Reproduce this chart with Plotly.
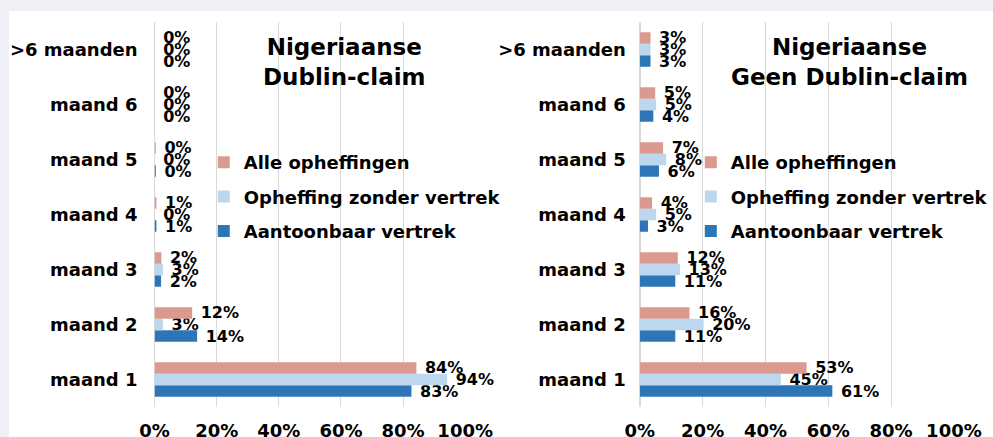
import plotly.graph_objects as go

# ---- data ----
categories = ["maand 1", "maand 2", "maand 3", "maand 4", "maand 5", "maand 6", ">6 maanden"]
series_names = ["Aantoonbaar vertrek", "Opheffing zonder vertrek", "Alle opheffingen"]
series_colors = ["#2E75B6", "#BDD7EE", "#DA9A90"]
legend_ranks = [3, 2, 1]

# Nigeriaanse, Dublin-claim (percentages)
dublin_aantoonbaar = [82.7, 13.7, 2.1, 0.6, 0.4, 0.0, 0.0]
dublin_zonder = [94.2, 2.7, 2.7, 0.0, 0.0, 0.0, 0.0]
dublin_alle = [84.3, 12.1, 2.2, 0.6, 0.4, 0.0, 0.0]

# Nigeriaanse, geen Dublin-claim (percentages)
geen_aantoonbaar = [61.3, 11.3, 11.3, 2.6, 6.1, 4.3, 3.4]
geen_zonder = [44.9, 20.3, 12.8, 5.2, 8.4, 5.2, 3.4]
geen_alle = [53.1, 15.8, 12.1, 3.9, 7.4, 4.9, 3.4]

x_ticks = [0, 20, 40, 60, 80, 100]
x_tick_labels = ["0%", "20%", "40%", "60%", "80%", "100%"]
title_left = "Nigeriaanse<br>Dublin-claim"
title_right = "Nigeriaanse<br>Geen Dublin-claim"

W, H = 993, 437
FONT = "DejaVu Sans, Verdana, sans-serif"

fig = go.Figure()

panels = [
    ("x", "y", "legend", [dublin_aantoonbaar, dublin_zonder, dublin_alle]),
    ("x2", "y2", "legend2", [geen_aantoonbaar, geen_zonder, geen_alle]),
]
for xa, ya, lg, values in panels:
    for name, color, rank, vals in zip(series_names, series_colors, legend_ranks, values):
        fig.add_trace(go.Bar(
            y=categories, x=vals, orientation="h", name=name,
            marker=dict(color=color, line=dict(width=0)),
            texttemplate="\u00a0%{x:.0f}%", textposition="outside",
            textfont=dict(family=FONT, size=16, color="black", weight="bold"),
            constraintext="none", cliponaxis=False,
            xaxis=xa, yaxis=ya, legend=lg, legendgroup=lg + name,
            legendrank=rank, hoverinfo="skip",
        ))

ydom = [1 - 407 / H, 1 - 22 / H]
axis_common = dict(
    range=[0, 100], tickmode="array", tickvals=x_ticks, ticktext=x_tick_labels,
    showgrid=True, gridcolor="#D9D9D9", gridwidth=1,
    zeroline=True, zerolinecolor="#D9D9D9", zerolinewidth=1.5,
    showline=False, ticks="", ticklabelstandoff=11,
    tickfont=dict(family=FONT, size=18, color="black", weight="bold"),
    automargin=False, fixedrange=True,
)
yaxis_common = dict(
    type="category", categoryorder="array", categoryarray=categories,
    showgrid=False, zeroline=False, showline=False, ticks="",
    tickfont=dict(family=FONT, size=18, color="black", weight="bold"),
    automargin=False, fixedrange=True,
)

legend_common = dict(
    traceorder="grouped", tracegroupgap=8,
    font=dict(family=FONT, size=18, color="black", weight="bold"),
    bgcolor="rgba(0,0,0,0)", borderwidth=0,
    xanchor="left", yanchor="top",
)

fig.update_layout(
    width=W, height=H,
    margin=dict(l=0, r=0, t=0, b=0),
    paper_bgcolor="#EEF0F5", plot_bgcolor="rgba(0,0,0,0)",
    barmode="group", bargap=0.37, bargroupgap=0,
    showlegend=True,
    xaxis=dict(domain=[155.5 / W, 468 / W], anchor="y", **axis_common),
    yaxis=dict(domain=ydom, anchor="x", ticklabelstandoff=16, **yaxis_common),
    xaxis2=dict(domain=[643.7 / W, 959.7 / W], anchor="y2", **axis_common),
    yaxis2=dict(domain=ydom, anchor="x2", ticklabelstandoff=13, **yaxis_common),
    legend=dict(x=205 / W, y=1 - 144 / H, **legend_common),
    legend2=dict(x=695 / W, y=1 - 144 / H, **legend_common),
    shapes=[dict(type="rect", xref="paper", yref="paper", layer="below",
                 x0=9 / W, x1=1.01, y0=-0.01, y1=1 - 11 / H,
                 fillcolor="white", line=dict(width=0))],
    annotations=[
        dict(text=title_left, x=347 / W, y=1 - 62 / H, xref="paper", yref="paper",
             showarrow=False, xanchor="center", yanchor="middle",
             font=dict(family=FONT, size=23, color="black", weight="bold")),
        dict(text=title_right, x=855 / W, y=1 - 62 / H, xref="paper", yref="paper",
             showarrow=False, xanchor="center", yanchor="middle",
             font=dict(family=FONT, size=23, color="black", weight="bold")),
    ],
)

fig.write_html("out.html", config={"displayModeBar": False, "staticPlot": True})

# remove the default 8px body margin so the figure fills the window exactly
with open("out.html", encoding="utf-8") as f:
    html = f.read()
html = html.replace("<head>", "<head><style>html,body{margin:0;padding:0;overflow:hidden;}</style>", 1)
with open("out.html", "w", encoding="utf-8") as f:
    f.write(html)
